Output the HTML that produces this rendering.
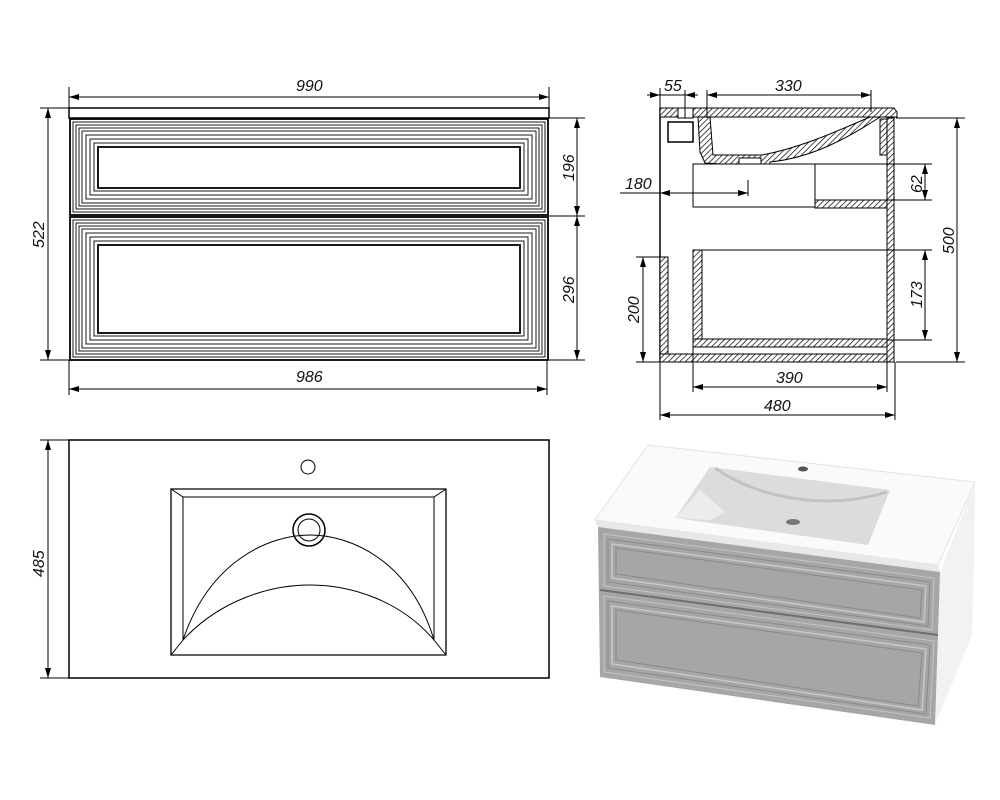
<!DOCTYPE html>
<html><head><meta charset="utf-8"><style>
html,body{margin:0;padding:0;background:#fff}
svg{display:block}
text{font-family:"Liberation Sans",sans-serif;font-style:italic;font-size:16px;fill:#111}
</style></head><body>
<svg width="1000" height="800" viewBox="0 0 1000 800" xmlns="http://www.w3.org/2000/svg">
<defs>
<pattern id="h" width="4" height="4" patternUnits="userSpaceOnUse" patternTransform="rotate(45)">
<rect width="4" height="4" fill="#fff"/><line x1="0" y1="0" x2="0" y2="4" stroke="#000" stroke-width="1.4"/></pattern>
<marker id="a" viewBox="0 0 10 6" refX="10" refY="3" markerWidth="10" markerHeight="6" orient="auto-start-reverse" markerUnits="userSpaceOnUse"><path d="M0,0 L10,3 L0,6 z" fill="#000"/></marker>
</defs>
<g stroke="#000" fill="none" stroke-width="1">
<!-- FRONT VIEW -->
<rect x="69" y="108" width="480" height="10" stroke-width="1.5"/>
<g stroke-width="0.9">
<rect x="70" y="119" width="478" height="96" stroke-width="1.8"/>
<rect x="73" y="122" width="472" height="90"/><rect x="76" y="125" width="466" height="84"/>
<rect x="79" y="128" width="460" height="78"/><rect x="82" y="131" width="454" height="72"/>
<rect x="86" y="135" width="446" height="64"/><rect x="90" y="139" width="438" height="56"/>
<rect x="94" y="143" width="430" height="48"/>
<rect x="98" y="147" width="422" height="41" stroke-width="1.8"/>
<rect x="70" y="217" width="478" height="143" stroke-width="1.8"/>
<rect x="73" y="220" width="472" height="137"/><rect x="76" y="223" width="466" height="131"/>
<rect x="79" y="226" width="460" height="125"/><rect x="82" y="229" width="454" height="119"/>
<rect x="86" y="233" width="446" height="111"/><rect x="90" y="237" width="438" height="103"/>
<rect x="94" y="241" width="430" height="95"/>
<rect x="98" y="245" width="422" height="88" stroke-width="1.8"/>
</g>
<!-- front dims -->
<line x1="69" y1="87" x2="69" y2="108"/><line x1="549" y1="87" x2="549" y2="108"/>
<line x1="69" y1="97" x2="549" y2="97" marker-start="url(#a)" marker-end="url(#a)"/>
<line x1="40" y1="108" x2="69" y2="108"/><line x1="40" y1="360" x2="69" y2="360"/>
<line x1="48" y1="108" x2="48" y2="360" marker-start="url(#a)" marker-end="url(#a)"/>
<line x1="69" y1="360" x2="69" y2="395"/><line x1="547" y1="360" x2="547" y2="395"/>
<line x1="69" y1="389" x2="547" y2="389" marker-start="url(#a)" marker-end="url(#a)"/>
<line x1="549" y1="118" x2="585" y2="118"/><line x1="549" y1="216" x2="585" y2="216"/><line x1="549" y1="360" x2="585" y2="360"/>
<line x1="577" y1="118" x2="577" y2="216" marker-start="url(#a)" marker-end="url(#a)"/>
<line x1="577" y1="216" x2="577" y2="360" marker-start="url(#a)" marker-end="url(#a)"/>
<!-- SIDE VIEW -->
<line x1="660" y1="108" x2="660" y2="362" stroke-width="1.5"/>
<path d="M660,108 H894 L897,112 V117 H660 Z" fill="url(#h)"/>
<rect x="678" y="108" width="15" height="10" fill="#fff"/>
<path d="M668,122 H693 V142 H668 Z" stroke-width="1.5"/>
<!-- basin -->
<path d="M698,117 L710,117 L713,155 L738,155 L762,155 C800,148 835,132 870,117 L872,117 L880,117 C845,140 810,158 770,162 L767,178 L740,178 L736,165 L705,163 L700,152 Z" fill="url(#h)"/>
<rect x="739" y="158" width="22" height="20" fill="#fff"/>
<rect x="693" y="164" width="122" height="43" fill="#fff"/>
<line x1="815" y1="164" x2="887" y2="164"/>
<rect x="815" y="200" width="72" height="8" fill="url(#h)"/>
<rect x="880" y="119" width="8" height="36" fill="url(#h)"/>
<rect x="887" y="118" width="7" height="244" fill="url(#h)"/>
<rect x="660" y="257" width="8" height="105" fill="url(#h)"/>
<rect x="693" y="250" width="9" height="97" fill="url(#h)"/>
<line x1="702" y1="250" x2="887" y2="250"/>
<rect x="693" y="339" width="194" height="8" fill="url(#h)"/>
<rect x="660" y="354" width="227" height="8" fill="url(#h)"/>
<!-- side dims -->
<line x1="685" y1="90" x2="685" y2="118"/><line x1="707" y1="90" x2="707" y2="118"/><line x1="871" y1="90" x2="871" y2="112"/><line x1="660" y1="88" x2="660" y2="108"/>
<line x1="647" y1="95" x2="660" y2="95" marker-end="url(#a)"/><line x1="698" y1="95" x2="685" y2="95" marker-end="url(#a)"/>
<line x1="660" y1="95" x2="685" y2="95"/>
<line x1="707" y1="95" x2="871" y2="95" marker-start="url(#a)" marker-end="url(#a)"/>
<line x1="620" y1="193" x2="748" y2="193" marker-end="url(#a)"/><line x1="660" y1="193" x2="670" y2="193" marker-start="url(#a)"/>
<line x1="748" y1="180" x2="748" y2="196"/>
<line x1="896" y1="118" x2="965" y2="118"/><line x1="896" y1="362" x2="965" y2="362"/>
<line x1="957" y1="118" x2="957" y2="362" marker-start="url(#a)" marker-end="url(#a)"/>
<line x1="887" y1="164" x2="932" y2="164"/><line x1="887" y1="200" x2="932" y2="200"/>
<line x1="925" y1="164" x2="925" y2="200" marker-start="url(#a)" marker-end="url(#a)"/>
<line x1="887" y1="250" x2="932" y2="250"/><line x1="887" y1="340" x2="932" y2="340"/>
<line x1="925" y1="250" x2="925" y2="340" marker-start="url(#a)" marker-end="url(#a)"/>
<line x1="636" y1="257" x2="660" y2="257"/><line x1="636" y1="362" x2="660" y2="362"/>
<line x1="643" y1="257" x2="643" y2="362" marker-start="url(#a)" marker-end="url(#a)"/>
<line x1="693" y1="347" x2="693" y2="392"/><line x1="887" y1="362" x2="887" y2="392"/>
<line x1="693" y1="387" x2="887" y2="387" marker-start="url(#a)" marker-end="url(#a)"/>
<line x1="660" y1="362" x2="660" y2="420"/><line x1="895" y1="362" x2="895" y2="420"/>
<line x1="660" y1="415" x2="895" y2="415" marker-start="url(#a)" marker-end="url(#a)"/>
<!-- PLAN VIEW -->
<rect x="69" y="440" width="480" height="238" stroke-width="1.5"/>
<circle cx="308" cy="467" r="7"/>
<path d="M171,489 H446 V655 H171 Z" stroke-width="1.3"/>
<path d="M171,489 L183,497 H434 L446,489 M183,497 L183,640 L171,655 M434,497 L434,640 L446,655"/>
<path d="M183,640 C210,560 270,535 310,535 C350,535 410,560 434,640"/>
<path d="M183,640 C220,600 270,585 310,585 C350,585 400,600 434,640"/>
<circle cx="309" cy="530" r="16" stroke-width="1.5"/><circle cx="309" cy="530" r="11"/>
<line x1="40" y1="440" x2="69" y2="440"/><line x1="40" y1="678" x2="69" y2="678"/>
<line x1="48" y1="440" x2="48" y2="678" marker-start="url(#a)" marker-end="url(#a)"/>
</g>
<!-- 3D -->
<g>
<polygon points="648,445 975,482 938,565 595,520" fill="#fafafa" stroke="#e2e2e2"/>
<polygon points="940,572 975,482 975,522 972,635 935,725" fill="#f2f2f2"/>
<polygon points="595,520 938,565 940,572 598,527" fill="#e8e8e8"/>
<polygon points="598,527 940,572 935,725 600,677" fill="#a6a6a6"/>
<polygon points="710,467 890,490 868,545 675,518" fill="#dcdcdc"/>
<polygon points="675,518 700,490 725,512 710,520" fill="#ececec"/>
<path d="M715,468 C760,500 830,510 887,492" fill="none" stroke="#c2c2c2" stroke-width="3"/>
<ellipse cx="803" cy="469" rx="5" ry="2.5" fill="#555"/>
<ellipse cx="793" cy="522" rx="7" ry="3" fill="#777"/>
<line x1="600" y1="590" x2="938" y2="635" stroke="#6e6e6e" stroke-width="2"/>
<g fill="none">
<polygon points="604,534 934,578 932,630 604,586" stroke="#c4c4c4" stroke-width="1"/>
<polygon points="608,539 930,582 928,626 608,582" stroke="#8a8a8a" stroke-width="1"/>
<polygon points="612,544 926,586 924,622 612,578" stroke="#c8c8c8" stroke-width="1.5"/>
<polygon points="616,548 922,590 920,618 616,574" stroke="#8a8a8a" stroke-width="1"/>
<polygon points="604,596 934,641 930,718 604,672" stroke="#c4c4c4" stroke-width="1"/>
<polygon points="608,601 930,645 926,714 608,668" stroke="#8a8a8a" stroke-width="1"/>
<polygon points="612,606 926,649 922,710 612,664" stroke="#c8c8c8" stroke-width="1.5"/>
<polygon points="616,610 922,653 918,706 616,660" stroke="#8a8a8a" stroke-width="1"/>
</g>
</g>
<!-- labels -->
<text x="296" y="91">990</text>
<text x="296" y="382">986</text>
<text transform="translate(44,248) rotate(-90)">522</text>
<text transform="translate(574,181) rotate(-90)">196</text>
<text transform="translate(574,303) rotate(-90)">296</text>
<text x="664" y="91">55</text>
<text x="775" y="91">330</text>
<text x="625" y="189">180</text>
<text transform="translate(922,193) rotate(-90)">62</text>
<text transform="translate(922,308) rotate(-90)">173</text>
<text transform="translate(954,254) rotate(-90)">500</text>
<text transform="translate(639,323) rotate(-90)">200</text>
<text x="776" y="383">390</text>
<text x="764" y="411">480</text>
<text transform="translate(44,577) rotate(-90)">485</text>
</svg>
</body></html>
